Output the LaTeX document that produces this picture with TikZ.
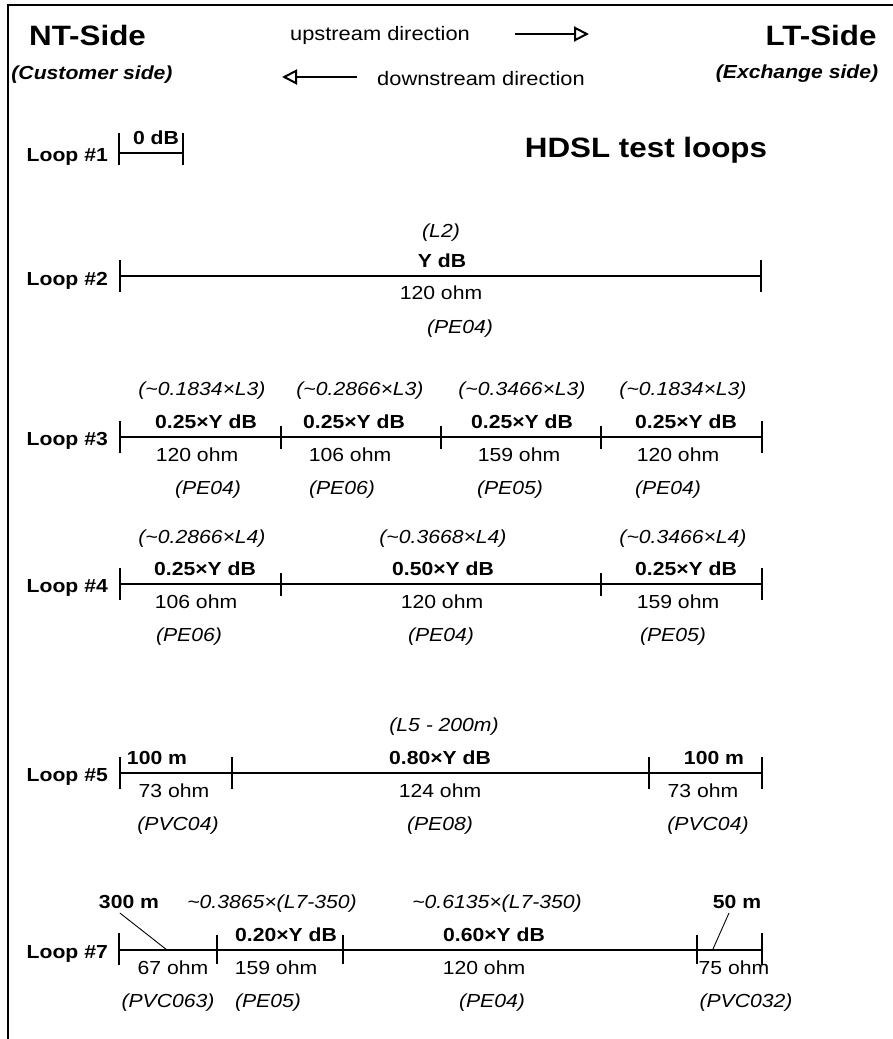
\documentclass[tikz,border=0pt]{standalone}
\usepackage{fontspec}
\setmainfont{Liberation Sans}[FakeStretch=1.12]
\usetikzlibrary{arrows.meta}
\begin{document}
\begin{tikzpicture}[x=1pt,y=-1pt,
  frameln/.style={line width=2.2pt},
  wire/.style={line width=2.8pt},
  tickln/.style={line width=2.2pt},
  leader/.style={line width=0.9pt},
  arr/.style={line width=2.2pt,-{Triangle[open,length=15pt,width=15pt,line width=2pt]}},
  nm/.style={font=\fontsize{18.9}{22}\selectfont, text height=13.5pt, text depth=0pt, inner sep=0pt},
  it/.style={font=\fontsize{18.9}{22}\selectfont\itshape, text height=13.5pt, text depth=0pt, inner sep=0pt},
  bd/.style={font=\fontsize{18.9}{22}\selectfont\bfseries, text height=13.5pt, text depth=0pt, inner sep=0pt},
  lbl/.style={bd, anchor=east},
  bdit/.style={font=\fontsize{18.9}{22}\selectfont\bfseries\itshape, text height=13.5pt, text depth=0pt, inner sep=0pt},
  big/.style={font=\fontsize{28}{32}\selectfont\bfseries, text height=20pt, text depth=0pt, inner sep=0pt},
  dir/.style={font=\fontsize{19.5}{23}\selectfont, text height=14pt, text depth=0pt, inner sep=0pt}
]
\useasboundingbox (0,0) rectangle (893,1039);
% frame
\coordinate (fTR) at (893,5);
\coordinate (fTL) at (8,5);
\coordinate (fBL) at (8,1039);
\draw[frameln] (fTR) -- (fTL) -- (fBL);

% header
\node[big] (nt) at (87.5,35) {NT-Side};
\node[bdit] (cust) at (92,73) {(Customer side)};
\node[big] (lt) at (821,35) {LT-Side};
\node[bdit] (exch) at (797,72) {(Exchange side)};
\node[dir] (up) at (380,33) {upstream direction};
\node[dir] (down) at (481,78) {downstream direction};
\coordinate (upA) at (515,34);
\coordinate (upB) at (589,34);
\draw[arr] (upA) -- (upB);
\coordinate (dnA) at (357,77);
\coordinate (dnB) at (282,77);
\draw[arr] (dnA) -- (dnB);
\node[big] (title) at (646,147) {HDSL test loops};

% Loop 1
\node[lbl] (L1) at (108,155) {Loop \#1};
\coordinate (a1) at (119,153);
\coordinate (b1) at (183,153);
\draw[wire] (a1) -- (b1);
\foreach \c in {a1,b1} \draw[tickln] ([yshift=20pt]\c) -- ([yshift=-12pt]\c);
\node[bd] (l1db) at (156,138) {0 dB};

% Loop 2
\node[lbl] (L2) at (108,279) {Loop \#2};
\coordinate (a2) at (120,276);
\coordinate (b2) at (761,276);
\draw[wire] (a2) -- (b2);
\foreach \c in {a2,b2} \draw[tickln] ([yshift=16pt]\c) -- ([yshift=-16pt]\c);
\node[it] (l2len) at (441,231) {(L2)};
\node[bd] (l2db) at (442,261) {Y dB};
\node[nm] (l2z) at (441,293) {120 ohm};
\node[it] (l2c) at (460,327) {(PE04)};

% Loop 3
\node[lbl] (L3) at (108,439) {Loop \#3};
\coordinate (a3) at (120,437);
\coordinate (b3) at (281,437);
\coordinate (c3) at (441,437);
\coordinate (d3) at (601,437);
\coordinate (e3) at (762,437);
\draw[wire] (a3) -- (e3);
\foreach \c in {a3,e3} \draw[tickln] ([yshift=16pt]\c) -- ([yshift=-16pt]\c);
\foreach \c in {b3,c3,d3} \draw[tickln] ([yshift=11pt]\c) -- ([yshift=-12pt]\c);
\node[it] (l3l1) at (202,389) {(\textasciitilde0.1834×L3)};
\node[it] (l3l2) at (360,389) {(\textasciitilde0.2866×L3)};
\node[it] (l3l3) at (522,389) {(\textasciitilde0.3466×L3)};
\node[it] (l3l4) at (683,389) {(\textasciitilde0.1834×L3)};
\node[bd] (l3d1) at (206,422) {0.25×Y dB};
\node[bd] (l3d2) at (354,422) {0.25×Y dB};
\node[bd] (l3d3) at (522,422) {0.25×Y dB};
\node[bd] (l3d4) at (686,422) {0.25×Y dB};
\node[nm] (l3z1) at (197,455) {120 ohm};
\node[nm] (l3z2) at (350,455) {106 ohm};
\node[nm] (l3z3) at (519,455) {159 ohm};
\node[nm] (l3z4) at (678,455) {120 ohm};
\node[it] (l3c1) at (208,488) {(PE04)};
\node[it] (l3c2) at (342,488) {(PE06)};
\node[it] (l3c3) at (510,488) {(PE05)};
\node[it] (l3c4) at (668,488) {(PE04)};

% Loop 4
\node[lbl] (L4) at (108,586) {Loop \#4};
\coordinate (a4) at (120,584);
\coordinate (b4) at (281,584);
\coordinate (c4) at (601,584);
\coordinate (d4) at (762,584);
\draw[wire] (a4) -- (d4);
\foreach \c in {a4,d4} \draw[tickln] ([yshift=16pt]\c) -- ([yshift=-16pt]\c);
\foreach \c in {b4,c4} \draw[tickln] ([yshift=11pt]\c) -- ([yshift=-12pt]\c);
\node[it] (l4l1) at (202,537) {(\textasciitilde0.2866×L4)};
\node[it] (l4l2) at (443,537) {(\textasciitilde0.3668×L4)};
\node[it] (l4l3) at (683,537) {(\textasciitilde0.3466×L4)};
\node[bd] (l4d1) at (205,569) {0.25×Y dB};
\node[bd] (l4d2) at (443,569) {0.50×Y dB};
\node[bd] (l4d3) at (686,569) {0.25×Y dB};
\node[nm] (l4z1) at (196,602) {106 ohm};
\node[nm] (l4z2) at (442,602) {120 ohm};
\node[nm] (l4z3) at (678,602) {159 ohm};
\node[it] (l4c1) at (189,635) {(PE06)};
\node[it] (l4c2) at (441,635) {(PE04)};
\node[it] (l4c3) at (673,635) {(PE05)};

% Loop 5
\node[lbl] (L5) at (108,775) {Loop \#5};
\coordinate (a5) at (120,773);
\coordinate (b5) at (232,773);
\coordinate (c5) at (649,773);
\coordinate (d5) at (762,773);
\draw[wire] (a5) -- (d5);
\foreach \c in {a5,b5,c5,d5} \draw[tickln] ([yshift=16pt]\c) -- ([yshift=-16pt]\c);
\node[it] (l5len) at (444,725) {(L5 - 200m)};
\node[bd] (l5d1) at (157,758) {100 m};
\node[bd] (l5d2) at (440,758) {0.80×Y dB};
\node[bd] (l5d3) at (714,758) {100 m};
\node[nm] (l5z1) at (174,791) {73 ohm};
\node[nm] (l5z2) at (440,791) {124 ohm};
\node[nm] (l5z3) at (703,791) {73 ohm};
\node[it] (l5c1) at (178,824) {(PVC04)};
\node[it] (l5c2) at (440,824) {(PE08)};
\node[it] (l5c3) at (708,824) {(PVC04)};

% Loop 7
\node[lbl] (L7) at (108,952) {Loop \#7};
\coordinate (a7) at (119,950);
\coordinate (b7) at (217,950);
\coordinate (c7) at (343,950);
\coordinate (d7) at (697,950);
\coordinate (e7) at (762,950);
\draw[wire] (a7) -- (e7);
\foreach \c in {a7,e7} \draw[tickln] ([yshift=17pt]\c) -- ([yshift=-15pt]\c);
\foreach \c in {b7,c7,d7} \draw[tickln] ([yshift=15pt]\c) -- ([yshift=-14pt]\c);
\node[bd] (l7m1) at (129,902) {300 m};
\node[it] (l7l2) at (272,902) {\textasciitilde0.3865×(L7-350)};
\node[it] (l7l3) at (497,902) {\textasciitilde0.6135×(L7-350)};
\node[bd] (l7m4) at (737,902) {50 m};
\node[bd] (l7d2) at (286,935) {0.20×Y dB};
\node[bd] (l7d3) at (494,935) {0.60×Y dB};
\node[nm] (l7z1) at (173,968) {67 ohm};
\node[nm] (l7z2) at (276,968) {159 ohm};
\node[nm] (l7z3) at (484,968) {120 ohm};
\node[nm] (l7z4) at (734,968) {75 ohm};
\node[it] (l7c1) at (168,1001) {(PVC063)};
\node[it] (l7c2) at (268,1001) {(PE05)};
\node[it] (l7c3) at (492,1001) {(PE04)};
\node[it] (l7c4) at (746,1001) {(PVC032)};
\coordinate (ld1) at (167,950);
\coordinate (ld2) at (713,949);
\draw[leader] (l7m1.south west) ++(21,4) coordinate (ls1) (ls1) -- (ld1);
\draw[leader] (l7m4.south) ++(-8,4) coordinate (ls2) (ls2) -- (ld2);
\end{tikzpicture}
\end{document}
